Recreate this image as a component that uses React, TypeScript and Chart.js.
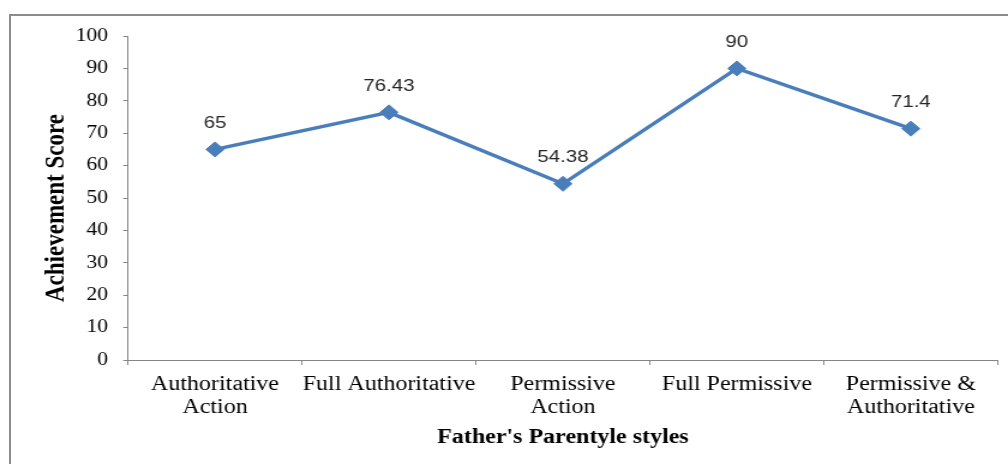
import React, { useEffect, useRef } from "react";
import { Chart, registerables } from "chart.js";

Chart.register(...registerables);

const categories: string[][] = [
  ["Authoritative", "Action"],
  ["Full Authoritative"],
  ["Permissive", "Action"],
  ["Full Permissive"],
  ["Permissive &", "Authoritative"],
];
const scores: number[] = [65, 76.43, 54.38, 90, 71.4];
const scoreLabels: string[] = ["65", "76.43", "54.38", "90", "71.4"];
const yTitle = "Achievement Score";
const xTitle = "Father's Parentyle styles";

const W = 840;
const H = 464;
const STRETCH = 1.2;
const AXIS = "#868686";
const SERIES = "#4a7ebb";

const labelPlugin = {
  id: "pointLabels",
  afterDatasetsDraw(chart: any) {
    const ctx = chart.ctx;
    const meta = chart.getDatasetMeta(0);
    ctx.save();
    ctx.font = "17px 'Liberation Sans', Arial, sans-serif";
    ctx.fillStyle = "#262626";
    ctx.textAlign = "center";
    ctx.textBaseline = "middle";
    meta.data.forEach((p: any, i: number) => {
      ctx.fillText(scoreLabels[i], p.x, p.y - 26);
    });
    ctx.restore();
  },
};

const yTitlePlugin = {
  id: "yTitle",
  afterDraw(chart: any) {
    const ctx = chart.ctx;
    const area = chart.chartArea;
    ctx.save();
    ctx.translate(47.5, (area.top + area.bottom) / 2 + 10);
    ctx.rotate(-Math.PI / 2);
    ctx.font = "bold 23px 'Liberation Serif', 'Times New Roman', serif";
    ctx.fillStyle = "#000";
    ctx.textAlign = "center";
    ctx.textBaseline = "middle";
    ctx.fillText(yTitle, 0, 0);
    ctx.restore();
  },
};

export default function App() {
  const ref = useRef<HTMLCanvasElement | null>(null);

  useEffect(() => {
    if (!ref.current) return;
    const chart = new Chart(ref.current, {
      type: "line",
      data: {
        labels: categories,
        datasets: [
          {
            data: scores,
            borderColor: SERIES,
            backgroundColor: SERIES,
            borderWidth: 3.5,
            pointStyle: "rectRot",
            pointRadius: 7.5,
            pointBorderWidth: 1,
            pointBackgroundColor: SERIES,
            pointBorderColor: SERIES,
            tension: 0,
          },
        ],
      },
      options: {
        responsive: false,
        animation: false,
        devicePixelRatio: 1,
        layout: { padding: { top: 36, right: 7.5, left: 0, bottom: 0 } },
        plugins: {
          legend: { display: false },
          tooltip: { enabled: false },
        },
        scales: {
          x: {
            offset: true,
            grid: {
              offset: true,
              drawOnChartArea: false,
              drawTicks: true,
              tickLength: 5,
              color: AXIS,
            },
            border: { color: AXIS, width: 1 },
            ticks: {
              color: "#000",
              padding: 8.5,
              maxRotation: 0,
              autoSkip: false,
              font: {
                family: "'Liberation Serif', 'Times New Roman', serif",
                size: 20,
                lineHeight: 1.15,
              },
            },
            title: {
              display: true,
              text: xTitle,
              color: "#000",
              padding: { top: 0, bottom: 14 },
              font: {
                family: "'Liberation Serif', 'Times New Roman', serif",
                size: 20,
                weight: "bold",
                lineHeight: 1.2,
              },
            },
            afterFit(scale: any) {
              scale.height = 104;
            },
          },
          y: {
            min: 0,
            max: 100,
            ticks: {
              stepSize: 10,
              color: "#000",
              padding: 12.7,
              font: {
                family: "'Liberation Serif', 'Times New Roman', serif",
                size: 18,
              },
            },
            grid: {
              drawOnChartArea: false,
              drawTicks: true,
              tickLength: 4,
              color: AXIS,
            },
            border: { color: AXIS, width: 1 },
            afterFit(scale: any) {
              scale.width = 106.7;
            },
          },
        },
      },
      plugins: [labelPlugin, yTitlePlugin],
    });
    return () => chart.destroy();
  }, []);

  return (
    <div
      style={{
        position: "fixed",
        left: 0,
        top: 0,
        width: 1008,
        height: 464,
        overflow: "hidden",
        background: "#fff",
      }}
    >
      <div
        style={{
          position: "absolute",
          left: 9,
          top: 14,
          width: 1200,
          height: 700,
          border: "2px solid #8c8c8c",
          boxSizing: "border-box",
        }}
      />
      <div
        style={{
          position: "absolute",
          left: 0,
          top: 0,
          width: W,
          height: H,
          transform: `scaleX(${STRETCH})`,
          transformOrigin: "0 0",
        }}
      >
        <canvas
          ref={ref}
          width={W}
          height={H}
          style={{ width: W, height: H, display: "block" }}
        />
      </div>
    </div>
  );
}
